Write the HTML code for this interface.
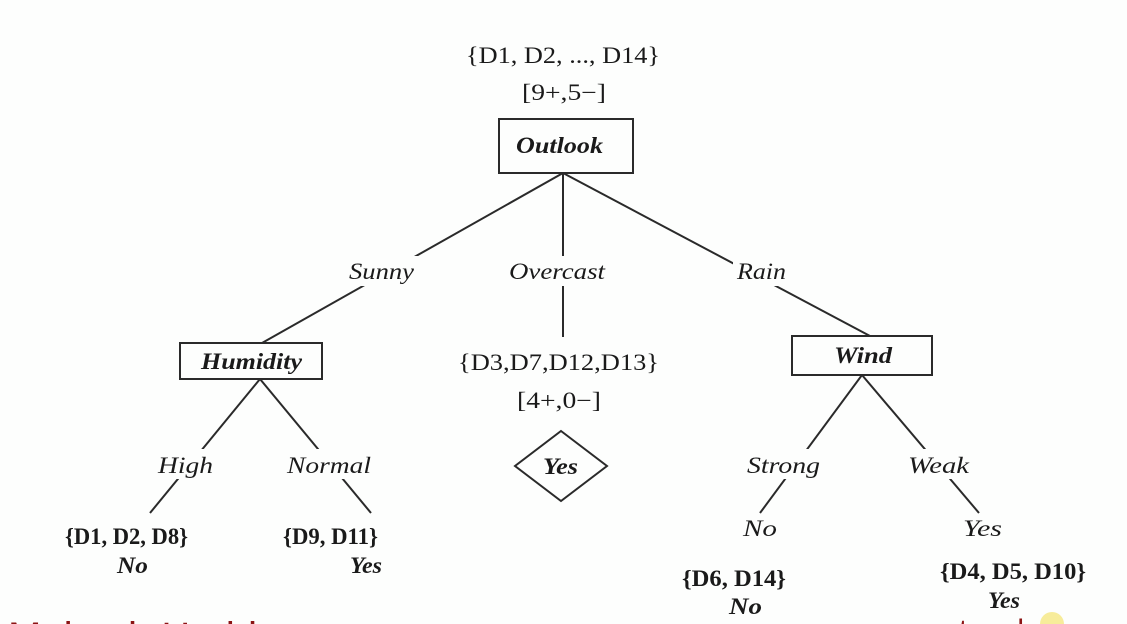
<!DOCTYPE html>
<html><head><meta charset="utf-8"><style>
html,body{margin:0;padding:0;background:#fdfefd;width:1127px;height:624px;overflow:hidden;}
svg{display:block;}
text{font-family:"Liberation Serif",serif;fill:#1a1a1a;}
.i{font-style:italic;}
.b{font-weight:bold;}
</style></head><body>
<svg width="1127" height="624" viewBox="0 0 1127 624" xmlns="http://www.w3.org/2000/svg" overflow="hidden">
<rect width="1127" height="624" fill="#fdfefd"/>
<g stroke="#2a2a2a" stroke-width="2" fill="none">
<line x1="563" y1="173" x2="262" y2="343"/>
<line x1="563" y1="173" x2="563" y2="337"/>
<line x1="563" y1="173" x2="870" y2="336"/>
<line x1="260" y1="379" x2="150" y2="513"/>
<line x1="260" y1="379" x2="371" y2="513"/>
<line x1="862" y1="375" x2="760" y2="513"/>
<line x1="862" y1="375" x2="979" y2="513"/>
</g>
<g fill="#fdfefd">
<rect x="345" y="256" width="74" height="30"/>
<rect x="505" y="256" width="104" height="30"/>
<rect x="733" y="256" width="60" height="30"/>
<rect x="154" y="449" width="64" height="30"/>
<rect x="284" y="449" width="90" height="30"/>
<rect x="744" y="449" width="80" height="30"/>
<rect x="906" y="449" width="66" height="30"/>
</g>
<g stroke="#2a2a2a" stroke-width="2" fill="#fdfefd">
<rect x="499" y="119" width="134" height="54"/>
<rect x="180" y="343" width="142" height="36"/>
<rect x="792" y="336" width="140" height="39"/>
<polygon points="561,431 607,466 561,501 515,466"/>
</g>
<g font-size="23" lengthAdjust="spacingAndGlyphs">
<text x="466" y="63" textLength="194" lengthAdjust="spacingAndGlyphs">{D1, D2, ..., D14}</text>
<text x="522" y="100" textLength="84" lengthAdjust="spacingAndGlyphs">[9+,5−]</text>
<text x="516" y="153" textLength="87" lengthAdjust="spacingAndGlyphs" class="i b">Outlook</text>
<text x="349" y="279" textLength="65" lengthAdjust="spacingAndGlyphs" class="i">Sunny</text>
<text x="509" y="279" textLength="96" lengthAdjust="spacingAndGlyphs" class="i">Overcast</text>
<text x="737" y="279" textLength="49" lengthAdjust="spacingAndGlyphs" class="i">Rain</text>
<text x="201" y="369" textLength="101" lengthAdjust="spacingAndGlyphs" class="i b">Humidity</text>
<text x="834" y="363" textLength="58" lengthAdjust="spacingAndGlyphs" class="i b">Wind</text>
<text x="458" y="370" textLength="201" lengthAdjust="spacingAndGlyphs">{D3,D7,D12,D13}</text>
<text x="517" y="408" textLength="84" lengthAdjust="spacingAndGlyphs">[4+,0−]</text>
<text x="543" y="474" textLength="35" lengthAdjust="spacingAndGlyphs" class="i b">Yes</text>
<text x="158" y="473" textLength="55" lengthAdjust="spacingAndGlyphs" class="i">High</text>
<text x="287" y="473" textLength="84" lengthAdjust="spacingAndGlyphs" class="i">Normal</text>
<text x="747" y="473" textLength="73" lengthAdjust="spacingAndGlyphs" class="i">Strong</text>
<text x="908" y="473" textLength="61" lengthAdjust="spacingAndGlyphs" class="i">Weak</text>
<text x="743" y="536" textLength="34" lengthAdjust="spacingAndGlyphs" class="i">No</text>
<text x="963" y="536" textLength="39" lengthAdjust="spacingAndGlyphs" class="i">Yes</text>
<text x="65" y="544" textLength="123" lengthAdjust="spacingAndGlyphs" class="b">{D1, D2, D8}</text>
<text x="117" y="573" textLength="31" lengthAdjust="spacingAndGlyphs" class="i b">No</text>
<text x="283" y="544" textLength="95" lengthAdjust="spacingAndGlyphs" class="b">{D9, D11}</text>
<text x="350" y="573" textLength="32" lengthAdjust="spacingAndGlyphs" class="i b">Yes</text>
<text x="682" y="586" textLength="104" lengthAdjust="spacingAndGlyphs" class="b">{D6, D14}</text>
<text x="729" y="614" textLength="33" lengthAdjust="spacingAndGlyphs" class="i b">No</text>
<text x="940" y="579" textLength="146" lengthAdjust="spacingAndGlyphs" class="b">{D4, D5, D10}</text>
<text x="988" y="608" textLength="32" lengthAdjust="spacingAndGlyphs" class="i b">Yes</text>
</g>
<circle cx="1052" cy="624" r="12" fill="#f7ec9a"/>
<text x="8" y="650" font-size="40" style="fill:#8b1414;font-family:'Liberation Sans',sans-serif">Mahesh Huddar</text>
<text x="944" y="640" font-size="30" style="fill:#8b1414;font-family:'Liberation Sans',sans-serif">vtupulse.com</text>
</svg>
</body></html>
